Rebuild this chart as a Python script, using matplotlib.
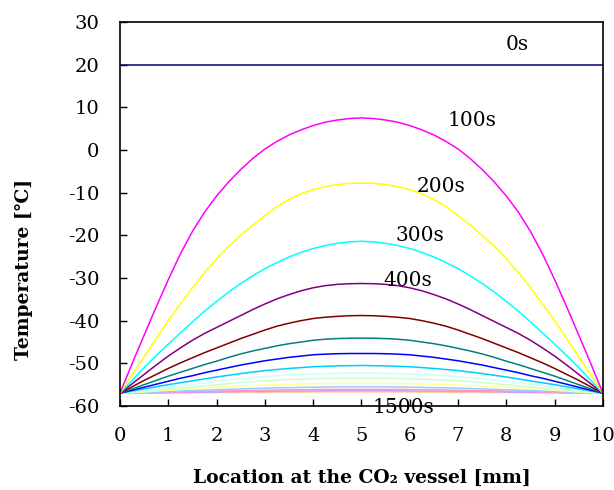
import matplotlib
matplotlib.use("Agg")
import matplotlib.pyplot as plt

plt.rcParams['font.family'] = ['DejaVu Serif', 'DejaVu Sans']
plt.rcParams['axes.unicode_minus'] = False

# location along the vessel [mm]
location = [0, 0.25, 0.5, 0.75, 1, 1.25, 1.5, 1.75, 2, 2.25, 2.5, 2.75, 3, 3.25, 3.5, 3.75,
            4, 4.25, 4.5, 4.75, 5, 5.25, 5.5, 5.75, 6, 6.25, 6.5, 6.75, 7, 7.25, 7.5, 7.75,
            8, 8.25, 8.5, 8.75, 9, 9.25, 9.5, 9.75, 10]

# temperature profiles [C]
t0 = [20] * 41
t100 = [-57, -50.1, -43.4, -36.8, -30.4, -24.4, -19.1, -14.6, -10.8, -7.5, -4.6, -2.0, 0.2, 2.0,
        3.5, 4.7, 5.7, 6.5, 7.0, 7.35, 7.5, 7.35, 7.0, 6.5, 5.7, 4.7, 3.5, 2.0, 0.2, -2.0,
        -4.6, -7.5, -10.8, -14.6, -19.1, -24.4, -30.4, -36.8, -43.4, -50.1, -57]
t200 = [-57, -52.7, -48.5, -44.2, -40.0, -36.1, -32.3, -28.8, -25.5, -22.6, -20.0, -17.6, -15.4,
        -13.3, -11.6, -10.3, -9.3, -8.6, -8.1, -7.85, -7.8, -7.85, -8.1, -8.6, -9.3, -10.3,
        -11.6, -13.3, -15.4, -17.6, -20.0, -22.6, -25.5, -28.8, -32.3, -36.1, -40.0, -44.2,
        -48.5, -52.7, -57]
t300 = [-57, -54, -51, -48.2, -45.5, -42.9, -40.3, -37.8, -35.5, -33.3, -31.3, -29.5, -27.8,
        -26.4, -25.1, -24.0, -23.1, -22.4, -21.9, -21.55, -21.4, -21.55, -21.9, -22.4, -23.1,
        -24.0, -25.1, -26.4, -27.8, -29.5, -31.3, -33.3, -35.5, -37.8, -40.3, -42.9, -45.5,
        -48.2, -51, -54, -57]
t400 = [-57, -54.8, -52.6, -50.4, -48.3, -46.4, -44.6, -43.0, -41.6, -40.2, -38.8, -37.4, -36.1,
        -34.9, -33.9, -33.0, -32.3, -31.8, -31.5, -31.35, -31.3, -31.35, -31.5, -31.8, -32.3,
        -33.0, -33.9, -34.9, -36.1, -37.4, -38.8, -40.2, -41.6, -43.0, -44.6, -46.4, -48.3,
        -50.4, -52.6, -54.8, -57]
t500 = [-57, -55.5, -54.0, -52.6, -51.2, -49.9, -48.7, -47.5, -46.4, -45.3, -44.2, -43.2, -42.2,
        -41.3, -40.6, -40.0, -39.5, -39.2, -39.0, -38.85, -38.8, -38.85, -39.0, -39.2, -39.5,
        -40.0, -40.6, -41.3, -42.2, -43.2, -44.2, -45.3, -46.4, -47.5, -48.7, -49.9, -51.2,
        -52.6, -54.0, -55.5, -57]
t600 = [-57, -56, -55, -54, -53, -52.1, -51.2, -50.3, -49.5, -48.6, -47.8, -47.1, -46.5, -45.9,
        -45.4, -45.0, -44.6, -44.35, -44.2, -44.12, -44.1, -44.12, -44.2, -44.35, -44.6, -45.0,
        -45.4, -45.9, -46.5, -47.1, -47.8, -48.6, -49.5, -50.3, -51.2, -52.1, -53, -54, -55,
        -56, -57]
t700 = [-57, -56.3, -55.6, -54.9, -54.2, -53.5, -52.9, -52.2, -51.6, -51.0, -50.4, -49.9, -49.4,
        -49.0, -48.6, -48.3, -48.0, -47.85, -47.75, -47.7, -47.7, -47.7, -47.75, -47.85, -48.0,
        -48.3, -48.6, -49.0, -49.4, -49.9, -50.4, -51.0, -51.6, -52.2, -52.9, -53.5, -54.2,
        -54.9, -55.6, -56.3, -57]
t800 = [-57, -56.5, -56, -55.5, -55, -54.55, -54.1, -53.65, -53.2, -52.8, -52.4, -52.05, -51.7,
        -51.45, -51.2, -51.0, -50.8, -50.7, -50.6, -50.55, -50.5, -50.55, -50.6, -50.7, -50.8,
        -51.0, -51.2, -51.45, -51.7, -52.05, -52.4, -52.8, -53.2, -53.65, -54.1, -54.55, -55,
        -55.5, -56, -56.5, -57]
t900 = [-57, -56.65, -56.3, -55.95, -55.6, -55.25, -54.9, -54.55, -54.2, -53.9, -53.6, -53.35,
        -53.1, -52.9, -52.7, -52.6, -52.5, -52.4, -52.35, -52.3, -52.3, -52.3, -52.35, -52.4,
        -52.5, -52.6, -52.7, -52.9, -53.1, -53.35, -53.6, -53.9, -54.2, -54.55, -54.9, -55.25,
        -55.6, -55.95, -56.3, -56.65, -57]
t1000 = [-57, -56.75, -56.5, -56.25, -56, -55.75, -55.5, -55.25, -55, -54.75, -54.5, -54.3,
         -54.1, -53.95, -53.8, -53.7, -53.6, -53.55, -53.5, -53.5, -53.5, -53.5, -53.5, -53.55,
         -53.6, -53.7, -53.8, -53.95, -54.1, -54.3, -54.5, -54.75, -55, -55.25, -55.5, -55.75,
         -56, -56.25, -56.5, -56.75, -57]
t1100 = [-57, -56.85, -56.7, -56.5, -56.3, -56.1, -55.9, -55.75, -55.6, -55.45, -55.3, -55.2,
         -55.1, -55.0, -54.9, -54.85, -54.8, -54.75, -54.7, -54.7, -54.7, -54.7, -54.7, -54.75,
         -54.8, -54.85, -54.9, -55.0, -55.1, -55.2, -55.3, -55.45, -55.6, -55.75, -55.9, -56.1,
         -56.3, -56.5, -56.7, -56.85, -57]
t1200 = [-57, -56.9, -56.8, -56.7, -56.6, -56.5, -56.4, -56.3, -56.2, -56.1, -56.0, -55.9,
         -55.8, -55.75, -55.7, -55.65, -55.6, -55.55, -55.5, -55.5, -55.5, -55.5, -55.5, -55.55,
         -55.6, -55.65, -55.7, -55.75, -55.8, -55.9, -56.0, -56.1, -56.2, -56.3, -56.4, -56.5,
         -56.6, -56.7, -56.8, -56.9, -57]
t1300 = [-57, -56.95, -56.9, -56.85, -56.8, -56.7, -56.6, -56.55, -56.5, -56.45, -56.4, -56.35,
         -56.3, -56.25, -56.2, -56.2, -56.15, -56.1, -56.1, -56.1, -56.1, -56.1, -56.1, -56.1,
         -56.15, -56.2, -56.2, -56.25, -56.3, -56.35, -56.4, -56.45, -56.5, -56.55, -56.6,
         -56.7, -56.8, -56.85, -56.9, -56.95, -57]
t1400 = [-57, -56.95, -56.9, -56.9, -56.85, -56.8, -56.8, -56.75, -56.7, -56.65, -56.6, -56.6,
         -56.55, -56.5, -56.5, -56.5, -56.45, -56.45, -56.4, -56.4, -56.4, -56.4, -56.4, -56.45,
         -56.45, -56.5, -56.5, -56.5, -56.55, -56.6, -56.6, -56.65, -56.7, -56.75, -56.8,
         -56.8, -56.85, -56.9, -56.9, -56.95, -57]
t1500 = [-57, -57, -56.95, -56.95, -56.9, -56.9, -56.9, -56.85, -56.85, -56.8, -56.8, -56.8,
         -56.8, -56.75, -56.75, -56.75, -56.7, -56.7, -56.7, -56.7, -56.7, -56.7, -56.7, -56.7,
         -56.7, -56.75, -56.75, -56.75, -56.8, -56.8, -56.8, -56.8, -56.85, -56.85, -56.9,
         -56.9, -56.9, -56.95, -56.95, -57, -57]

profiles = [t0, t100, t200, t300, t400, t500, t600, t700, t800,
            t900, t1000, t1100, t1200, t1300, t1400, t1500]
colors = ['#000080', '#FF00FF', '#FFFF00', '#00FFFF', '#800080', '#800000',
          '#008080', '#0000FF', '#00CCFF', '#CCFFFF', '#CCFFCC', '#FFFF99',
          '#99CCFF', '#FF99CC', '#CC99FF', '#FFCC99']

# time labels written on the chart
time_labels = ['0s', '100s', '200s', '300s', '400s', '1500s']
label_x = [8.22, 7.29, 6.64, 6.21, 5.96, 5.86]
label_y = [24.8, 6.8, -8.5, -20.1, -30.6, -60.3]

fig = plt.figure(figsize=(6.14, 4.9), dpi=100)
ax = fig.add_axes([0.1954, 0.1714, 0.7866, 0.784])

# latest profile first so the earlier ones sit on top
for temp, col in reversed(list(zip(profiles, colors))):
    ax.plot(location, temp, color=col, lw=1.1)

for txt, lx, ly in zip(time_labels, label_x, label_y):
    ax.text(lx, ly, txt, ha='center', va='center', fontsize=14.5)

ax.set_xlim(0, 10)
ax.set_ylim(-60, 30)
ax.set_xticks(range(0, 11))
ax.set_yticks(range(-60, 31, 10))
ax.tick_params(direction='in', length=5, width=1, labelsize=14)
ax.tick_params(axis='x', pad=15)
ax.tick_params(axis='y', pad=15)
for sp in ax.spines.values():
    sp.set_linewidth(1.2)

ax.set_xlabel('Location at the CO₂ vessel [mm]', fontsize=13.5, fontweight='bold', labelpad=17)
ax.set_ylabel('Temperature [℃]', fontsize=13.5, fontweight='bold')
ax.yaxis.set_label_coords(-0.18, 0.355)

fig.savefig('out.png', dpi=100)
